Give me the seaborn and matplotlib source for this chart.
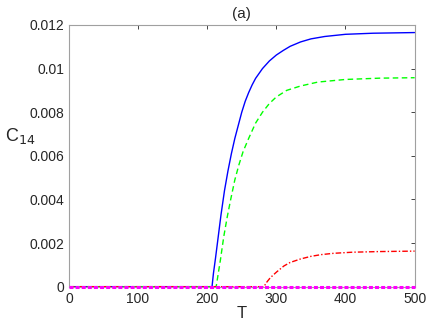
import matplotlib
matplotlib.use("Agg")
import matplotlib.pyplot as plt
import seaborn as sns
import pandas as pd

# curve values
t_blue = [0, 207, 209, 212, 216, 220, 225, 230, 235, 240, 245, 250, 255, 260, 265, 270, 280, 290,
          300, 310, 320, 335, 350, 370, 400, 440, 500]
c_blue = [0, 0, 0.0006, 0.0013, 0.0023, 0.0033, 0.0044, 0.0053, 0.0061, 0.0068, 0.0074, 0.0080,
          0.0085, 0.0089, 0.00925, 0.00955, 0.0100, 0.01035, 0.01062, 0.01083, 0.01102, 0.01122,
          0.01136, 0.01147, 0.01157, 0.01162, 0.01165]

t_green = [0, 213, 215, 219, 224, 229, 234, 240, 246, 252, 260, 270, 280, 290, 300, 315, 335, 360,
           400, 450, 500]
c_green = [0, 0, 0.0004, 0.0012, 0.0023, 0.0032, 0.0040, 0.0049, 0.0056, 0.0062, 0.0068, 0.0075,
           0.0080, 0.0084, 0.0087, 0.0090, 0.0092, 0.00938, 0.0095, 0.00956, 0.00958]

t_red = [0, 282, 286, 291, 296, 301, 306, 311, 320, 335, 350, 365, 383, 410, 450, 500]
c_red = [0, 0, 0.0002, 0.0004, 0.00055, 0.00069, 0.00082, 0.00095, 0.00111, 0.00127, 0.00139,
         0.00147, 0.00153, 0.00158, 0.00161, 0.00163]

t_mag = [0, 500]
c_mag = [0, 0]

x_ticks = [0, 100, 200, 300, 400, 500]
y_ticks = [0, 0.002, 0.004, 0.006, 0.008, 0.01, 0.012]
y_labels = ["0", "0.002", "0.004", "0.006", "0.008", "0.01", "0.012"]

sns.set_style("white")
plt.rcParams["font.family"] = ["Liberation Sans", "DejaVu Sans"]

fig = plt.figure(figsize=(4.36, 3.28), dpi=100)
ax = fig.add_axes([0.158, 0.126, 0.793, 0.798])

series = [
    (t_blue, c_blue, "#0000ff", "-"),
    (t_green, c_green, "#00ff00", (0, (4, 2.5))),
    (t_red, c_red, "#ff0000", (0, (4, 1.5, 1, 1.5))),
]
for t, c, col, ls in series:
    df = pd.DataFrame({"T": t, "C": c})
    sns.lineplot(data=df, x="T", y="C", ax=ax, color=col, linestyle=ls, linewidth=1.0)

# zero curve drawn on top, over the axis line
df_m = pd.DataFrame({"T": t_mag, "C": c_mag})
sns.lineplot(data=df_m, x="T", y="C", ax=ax, color="#ff00ff", linestyle=(0, (1.3, 0.7)),
             linewidth=2.2, clip_on=False, zorder=5)

ax.set_xlim(0, 500)
ax.set_ylim(0, 0.012)
ax.set_xticks(x_ticks)
ax.set_xticklabels([str(v) for v in x_ticks])
ax.set_yticks(y_ticks)
ax.set_yticklabels(y_labels)
ax.tick_params(direction="in", length=3, width=0.6, colors="#262626", labelsize=10,
               top=True, right=True, labeltop=False, labelright=False)
for s in ax.spines.values():
    s.set_color("#a0a0a0")
    s.set_linewidth(0.8)

ax.set_xlabel("T", fontsize=12, color="#262626", labelpad=0)
ax.set_ylabel("C$_{14}$", fontsize=13, color="#262626", rotation=0)
ax.yaxis.label.set_va("center")
ax.yaxis.set_label_coords(-0.14, 0.575)
ax.set_title("(a)", fontsize=11, color="#262626", pad=5)

fig.savefig("out.png", dpi=100)
plt.close(fig)
